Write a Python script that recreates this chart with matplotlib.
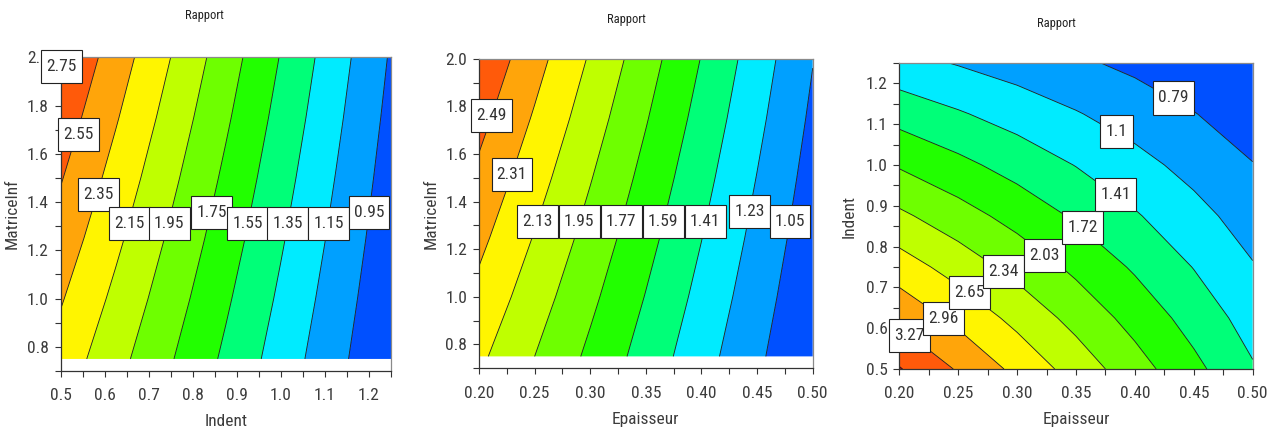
import numpy as np
import matplotlib
matplotlib.use("Agg")
import matplotlib.pyplot as plt
from matplotlib import font_manager as fm
from matplotlib.path import Path
from matplotlib.ticker import MultipleLocator, FormatStrFormatter

# ---------------- data ----------------
# Panel 1 : Rapport vs Indent (x) and MatriceInf (y)
p1_x = [0.5, 0.625, 0.75, 0.875, 1.0, 1.125, 1.25]
p1_y = [0.75, 1.0, 1.25, 1.5, 1.75, 2.0]
p1_z = [
    [2.270, 2.018, 1.765, 1.513, 1.260, 1.008, 0.755],
    [2.368, 2.105, 1.842, 1.579, 1.316, 1.053, 0.790],
    [2.466, 2.193, 1.919, 1.646, 1.372, 1.099, 0.825],
    [2.564, 2.280, 1.996, 1.712, 1.428, 1.144, 0.860],
    [2.662, 2.368, 2.073, 1.779, 1.484, 1.190, 0.895],
    [2.760, 2.455, 2.150, 1.845, 1.540, 1.235, 0.930],
]
p1_levels = [0.95, 1.15, 1.35, 1.55, 1.75, 1.95, 2.15, 2.35, 2.55, 2.75]
p1_labels = [2.75, 2.55, 2.35, 2.15, 1.95, 1.75, 1.55, 1.35, 1.15, 0.95]

# Panel 2 : Rapport vs Epaisseur (x) and MatriceInf (y)
p2_x = [0.20, 0.25, 0.30, 0.35, 0.40, 0.45, 0.50]
p2_y = [0.75, 1.0, 1.25, 1.5, 1.75, 2.0]
p2_z = [
    [2.166, 1.950, 1.733, 1.517, 1.300, 1.084, 0.867],
    [2.261, 2.035, 1.809, 1.583, 1.357, 1.131, 0.905],
    [2.356, 2.120, 1.885, 1.649, 1.414, 1.178, 0.943],
    [2.450, 2.205, 1.960, 1.715, 1.470, 1.225, 0.980],
    [2.545, 2.291, 2.036, 1.782, 1.527, 1.273, 1.018],
    [2.640, 2.376, 2.112, 1.848, 1.584, 1.320, 1.056],
]
p2_levels = [1.05, 1.23, 1.41, 1.59, 1.77, 1.95, 2.13, 2.31, 2.49]
p2_labels = [2.49, 2.31, 2.13, 1.95, 1.77, 1.59, 1.41, 1.23, 1.05]

# Panel 3 : Rapport vs Epaisseur (x) and Indent (y)
p3_x = [0.20, 0.25, 0.30, 0.35, 0.40, 0.45, 0.50]
p3_y = [0.5, 0.625, 0.75, 0.875, 1.0, 1.125, 1.25]
p3_z = [
    [3.60, 3.24, 2.88, 2.52, 2.16, 1.80, 1.44],
    [3.20, 2.88, 2.56, 2.24, 1.92, 1.60, 1.28],
    [2.80, 2.52, 2.24, 1.96, 1.68, 1.40, 1.12],
    [2.40, 2.16, 1.92, 1.68, 1.44, 1.20, 0.96],
    [2.00, 1.80, 1.60, 1.40, 1.20, 1.00, 0.80],
    [1.60, 1.44, 1.28, 1.12, 0.96, 0.80, 0.64],
    [1.20, 1.08, 0.96, 0.84, 0.72, 0.60, 0.48],
]
p3_levels = [0.79, 1.10, 1.41, 1.72, 2.03, 2.34, 2.65, 2.96, 3.27, 3.58]
p3_labels = [3.27, 2.96, 2.65, 2.34, 2.03, 1.72, 1.41, 1.1, 0.79]

# ---------------- styles / positions ----------------
band_colors = ['#0050FF', '#00A0FF', '#00EBFF', '#00FF78', '#22FF00', '#6EFF00',
               '#BFFF00', '#FFF500', '#FFA50A', '#FF5A0A', '#D00000']

p1_label_pos = [(0.5016, 1.963), (0.540, 1.679), (0.587, 1.433), (0.656, 1.313),
                (0.747, 1.313), (0.843, 1.355), (0.925, 1.313), (1.016, 1.313),
                (1.108, 1.313), (1.200, 1.355)]
p2_label_pos = [(0.2112, 1.760), (0.2296, 1.515), (0.2527, 1.316), (0.2901, 1.316),
                (0.3279, 1.316), (0.3657, 1.316), (0.4034, 1.316), (0.4435, 1.358),
                (0.4796, 1.316)]
p3_label_pos = [(0.2084, 0.583), (0.2374, 0.623), (0.2595, 0.687), (0.2884, 0.739),
                (0.3233, 0.778), (0.3555, 0.846), (0.3839, 0.928), (0.3843, 1.081),
                (0.4326, 1.164)]

# pick a condensed sans font when one is installed
pref = ['Liberation Sans Narrow', 'Liberation Sans', 'Roboto Condensed', 'Roboto',
        'Open Sans Condensed', 'Open Sans', 'Noto Sans Condensed', 'Noto Sans',
        'DejaVu Sans Condensed', 'DejaVu Sans']
found = None
for nm in pref:
    for f in fm.fontManager.ttflist:
        if (f.name == nm and f.style == 'normal' and f.weight in (400, 'normal', 'regular')
                and (('Narrow' in nm or 'Condensed' in nm) or str(f.stretch) in ('condensed', 'semi-condensed'))):
            found = (f.name, f.stretch)
            break
    if found:
        break

if found:
    FONT, STRETCH = found
    FS, TFS, PADX, PADY = 12.5, 9, 0.30, 0.52
else:
    FONT, STRETCH = 'Liberation Sans', 'normal'
    FS, TFS, PADX, PADY = 11.5, 7.8, 0.25, 0.50
plt.rcParams['font.family'] = [FONT, 'DejaVu Sans']
plt.rcParams['font.stretch'] = STRETCH


def label_box(x0, y0, width, height, mutation_size):
    px, py = PADX * mutation_size, PADY * mutation_size
    x0, y0 = x0 - px, y0 - py
    x1, y1 = x0 + width + 2 * px, y0 + height + 2 * py
    return Path([(x0, y0), (x1, y0), (x1, y1), (x0, y1), (x0, y0)],
                [Path.MOVETO, Path.LINETO, Path.LINETO, Path.LINETO, Path.CLOSEPOLY])


W, H = 1282, 430
fig = plt.figure(figsize=(W / 100, H / 100), dpi=100)
fig.patch.set_facecolor('white')


def make_axes(l, r, t, b):
    return fig.add_axes([l / W, 1 - b / H, (r - l) / W, (b - t) / H])


def style(ax, xlim, ylim, xmaj, xmin, ymaj, ymin, xfmt, yfmt, xlabel, ylabel,
          ylab_px, width_px):
    ax.set_xlim(*xlim)
    ax.set_ylim(*ylim)
    ax.xaxis.set_major_locator(MultipleLocator(xmaj))
    ax.xaxis.set_minor_locator(MultipleLocator(xmin))
    ax.yaxis.set_major_locator(MultipleLocator(ymaj))
    ax.yaxis.set_minor_locator(MultipleLocator(ymin))
    ax.xaxis.set_major_formatter(FormatStrFormatter(xfmt))
    ax.yaxis.set_major_formatter(FormatStrFormatter(yfmt))
    ax.tick_params(which='both', direction='out', length=4.5, width=0.8,
                   color='#333333', labelcolor='#3c3c3c', labelsize=FS)
    ax.tick_params(axis='x', which='both', pad=8)
    ax.tick_params(axis='y', which='both', pad=4)
    for s in ['left', 'bottom']:
        ax.spines[s].set_color('#333333')
        ax.spines[s].set_linewidth(0.9)
    for s in ['top', 'right']:
        ax.spines[s].set_color('#8a8a8a')
        ax.spines[s].set_linewidth(0.9)
    ax.set_xlabel(xlabel, fontsize=FS, color='#3c3c3c', labelpad=8)
    ax.set_ylabel(ylabel, fontsize=FS, color='#3c3c3c')
    ax.yaxis.set_label_coords(ylab_px / width_px, 0.5)


def draw(ax, xs, ys, zs, levels, labels, positions):
    Z = np.array(zs)
    X, Y = np.meshgrid(xs, ys)
    fill_levels = [Z.min() - 1] + list(levels) + [Z.max() + 1]
    ax.contourf(X, Y, Z, levels=fill_levels,
                colors=band_colors[:len(levels) + 1], antialiased=True)
    ax.contour(X, Y, Z, levels=levels, colors='#1a1a1a', linewidths=0.6)
    for v, (px, py) in zip(labels, positions):
        ax.text(px, py, f'{v:g}', ha='center', va='center', fontsize=FS,
                color='#333333', zorder=6, clip_on=False,
                bbox=dict(boxstyle=label_box, fc='white',
                          ec='#222222', lw=0.8))


ax1 = make_axes(60.5, 391, 57.3, 371)
draw(ax1, p1_x, p1_y, p1_z, p1_levels, p1_labels, p1_label_pos)
style(ax1, (0.5, 1.25), (0.7, 2.0), 0.1, 0.05, 0.2, 0.1, '%.1f', '%.1f',
      'Indent', 'MatriceInf', -40.5, 330.5)

ax2 = make_axes(479, 812.7, 58.7, 368.3)
draw(ax2, p2_x, p2_y, p2_z, p2_levels, p2_labels, p2_label_pos)
style(ax2, (0.2, 0.5), (0.7, 2.0), 0.05, 0.025, 0.2, 0.1, '%.2f', '%.1f',
      'Epaisseur', 'MatriceInf', -40, 333.7)

ax3 = make_axes(899.3, 1252.7, 62.9, 369)
draw(ax3, p3_x, p3_y, p3_z, p3_levels, p3_labels, p3_label_pos)
style(ax3, (0.2, 0.5), (0.5, 1.25), 0.05, 0.025, 0.1, 0.05, '%.2f', '%.1f',
      'Epaisseur', 'Indent', -43, 353.4)

for (tx, ty) in [(204, 16), (626.7, 19), (1056, 24)]:
    fig.text(tx / W, 1 - ty / H, 'Rapport', ha='center', va='center',
             fontsize=TFS, color='#222222')

fig.savefig('out.png', dpi=100, facecolor='white')
